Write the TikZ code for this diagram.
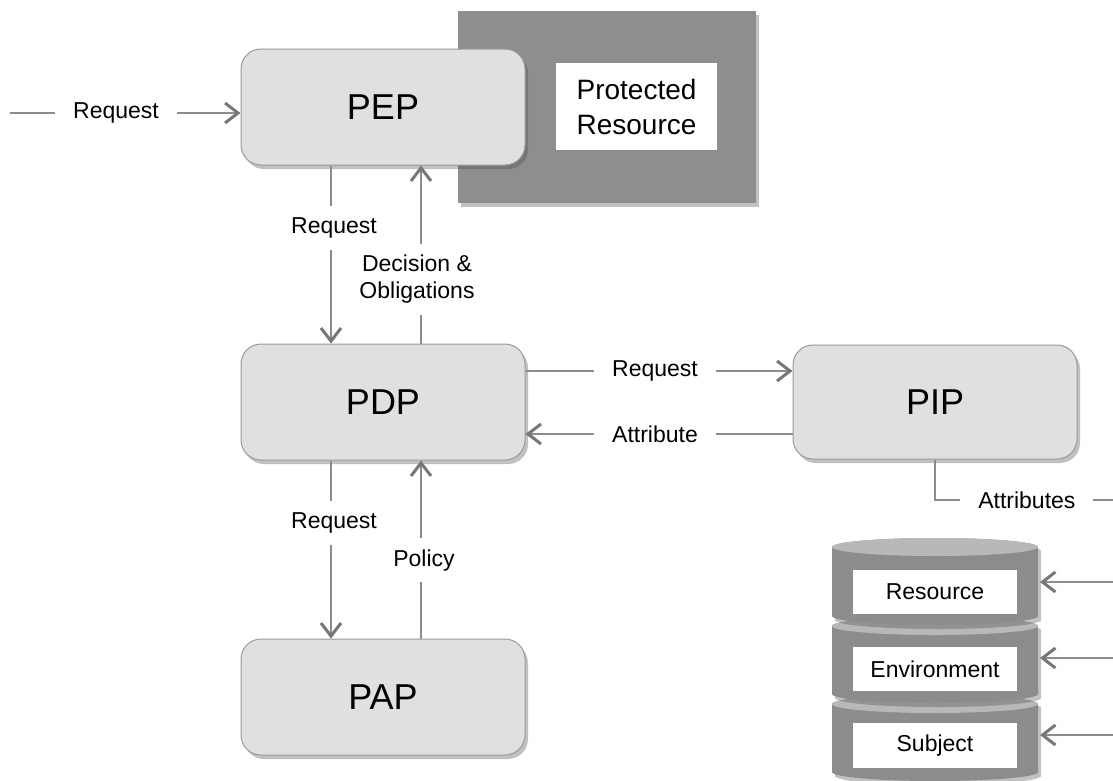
\documentclass[tikz,border=0pt]{standalone}
\usepackage{fontspec}
\setmainfont{Liberation Sans}
\usetikzlibrary{arrows.meta,shadows}
\definecolor{boxfill}{HTML}{E0E0E0}
\definecolor{boxline}{HTML}{9A9A9A}
\definecolor{linec}{HTML}{8C8C8C}
\definecolor{arrc}{HTML}{777777}
\definecolor{darkbg}{HTML}{8E8E8E}
\definecolor{cylbody}{HTML}{8C8C8C}
\definecolor{cyltop}{HTML}{B8B8B8}
\begin{document}
\begin{tikzpicture}[x=1pt,y=-1pt,
  shad/.style={drop shadow={shadow xshift=3pt,shadow yshift=-4pt,fill=black!70,opacity=0.35}},
  box/.style={draw=boxline,line width=1pt,fill=boxfill,rounded corners=20pt,
    minimum width=284pt,minimum height=116pt,inner sep=0pt,
    font=\fontsize{36}{40}\selectfont,shad},
  lbl/.style={fill=white,inner xsep=18pt,inner ysep=11.5pt,
    font=\fontsize{23}{27}\selectfont,align=center},
  cylbox/.style={fill=white,minimum width=164pt,minimum height=44pt,inner sep=0pt,
    font=\fontsize{23}{27}\selectfont},
  conn/.style={draw=linec,line width=1.3pt},
  arr/.style={conn,-{Straight Barb[length=13pt,width=20pt,line width=3pt,color=arrc]}},
]
\useasboundingbox (0,0) rectangle (1113,780);

% protected resource
\node[fill=darkbg,minimum width=298pt,minimum height=192pt,inner sep=0pt,shad] (prot) at (607,107) {};
\node[fill=white,minimum width=161pt,minimum height=87pt,inner sep=0pt,
  font=\fontsize{28}{35}\selectfont,align=center] (res) at (636.5,106.5) {Protected\\Resource};

% main boxes
\node[box] (pep) at (383,107) {PEP};
\node[box] (pdp) at (383,402) {PDP};
\node[box] (pap) at (383,697) {PAP};
\node[box,minimum height=114pt] (pip) at (935,402) {PIP};

% incoming request
\coordinate (inL) at (10,113);
\draw[arr] (inL) -- node[lbl,pos=0.46]{Request} (inL -| pep.west);

% PEP <-> PDP
\draw[arr] ([xshift=-52pt]pep.south) -- node[lbl,pos=0.35,xshift=3pt]{Request} ([xshift=-52pt]pdp.north);
\draw[arr] ([xshift=38pt]pdp.north) -- node[lbl,pos=0.36,xshift=-4pt]{Decision \&\\Obligations} ([xshift=38pt]pep.south);

% PDP <-> PAP
\draw[arr] ([xshift=-52pt]pdp.south) -- node[lbl,pos=0.35,xshift=3pt]{Request} ([xshift=-52pt]pap.north);
\draw[arr] ([xshift=38pt]pap.north) -- node[lbl,pos=0.44,xshift=3pt]{Policy} ([xshift=38pt]pdp.south);

% PDP <-> PIP
\draw[arr] ([yshift=31pt]pdp.east) -- node[lbl,pos=0.485]{Request} ([yshift=31pt]pdp.east -| pip.west);
\draw[arr] ([yshift=-32pt]pip.west) -- node[lbl,pos=0.515]{Attribute} ([yshift=-32pt]pip.west -| pdp.east);

% PIP attributes
\coordinate (attrE) at (1113,500);
\draw[conn] (pip.south) |- node[lbl,pos=0.758]{Attributes} (attrE);

% cylinder stack
\foreach \t/\b in {704/772,626/694,547/616}{
  \fill[cylbody,shad] (832,\t) -- (832,\b) arc[start angle=180,end angle=0,x radius=103,y radius=9]
     -- (1038,\t) arc[start angle=0,end angle=-180,x radius=103,y radius=9] -- cycle;
  \fill[cyltop] (935,\t) ellipse[x radius=103,y radius=9];
}
\node[cylbox] (resb) at (935,592) {Resource};
\node[cylbox] (envb) at (935,669) {Environment};
\node[cylbox,minimum height=45pt] (subb) at (935,745.5) {Subject};

\coordinate (e1) at (1113,582);
\coordinate (t1) at (1040,582);
\coordinate (e2) at (1113,658);
\coordinate (t2) at (1040,658);
\coordinate (e3) at (1113,735);
\coordinate (t3) at (1040,735);
\draw[arr] (e1) -- (t1);
\draw[arr] (e2) -- (t2);
\draw[arr] (e3) -- (t3);
\end{tikzpicture}
\end{document}
